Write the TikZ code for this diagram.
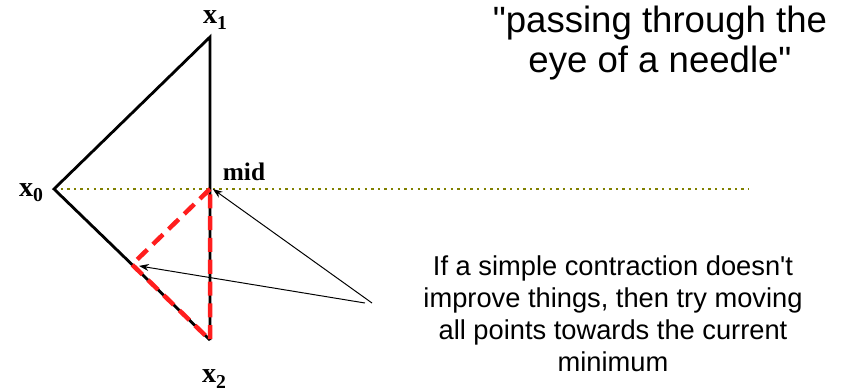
\documentclass[tikz,border=0pt]{standalone}
\usepackage{fontspec}
\setmainfont{Liberation Serif}
\newfontfamily\arialfont{Liberation Sans}
\usepackage{tikz}
\usetikzlibrary{arrows.meta,calc}
\definecolor{needlered}{RGB}{255,30,30}
\definecolor{dotolive}{RGB}{128,128,0}
\newcommand{\vsub}[1]{\raisebox{-0.4ex}{\fontsize{14}{14}\selectfont\bfseries #1}}

\begin{document}
\begin{tikzpicture}[x=0.025cm, y=-0.025cm,
    edge/.style={line width=2pt, black},
    shrink/.style={line width=3.2pt, needlered, dash pattern=on 10pt off 5.5pt},
    level/.style={dotolive, line width=1.7pt, dash pattern=on 1.7pt off 3pt},
    arr/.style={-{Stealth[length=7pt, width=5pt]}, line width=0.7pt},
    vlabel/.style={font=\fontsize{20}{22}\selectfont\bfseries, inner sep=0pt},
    note/.style={font=\arialfont\fontsize{19.4}{22.7}\selectfont, align=center, inner sep=0pt}
  ]
    \useasboundingbox (0,0) rectangle (848,391);
    % simplex points
    \coordinate (x0) at (54,189);
    \coordinate (x1) at (210,37);
    \coordinate (x2) at (210,340);
    \coordinate (mid) at (210,189);
    \coordinate (half) at ($(x0)!0.5!(x2)$);
    \coordinate (tail) at (372,303);
    \coordinate (far) at (748,189);
    % labels
    \node[vlabel] (lx1) at (215,20) {x\vsub{1}};
    \node[vlabel] (lx0) at (31,193) {x\vsub{0}};
    \node[vlabel] (lx2) at (214,379) {x\vsub{2}};
    \node[vlabel, font=\fontsize{18}{20}\selectfont\bfseries] (lmid) at (244,172) {mid};
    \node[font=\arialfont\fontsize{26}{28.5}\selectfont, align=center, inner sep=0pt] (title) at (660,43) {"passing through the\\eye of a needle"};
    \node[note] (text) at (613,314) {If a simple contraction doesn't\\improve things, then try moving\\all points towards the current\\minimum};
    % lines
    \draw[level] (x0) -- (far);
    \draw[edge, line join=miter] (x2) -- (x0) -- (x1) -- (x2);
    \draw[shrink] (mid) -- (half) -- (x2) -- (mid);
    \draw[arr] (tail) -- ([xshift=2]mid);
    \draw[arr] ([xshift=-5]tail) -- ([xshift=5,yshift=-1]half);
\end{tikzpicture}
\end{document}
